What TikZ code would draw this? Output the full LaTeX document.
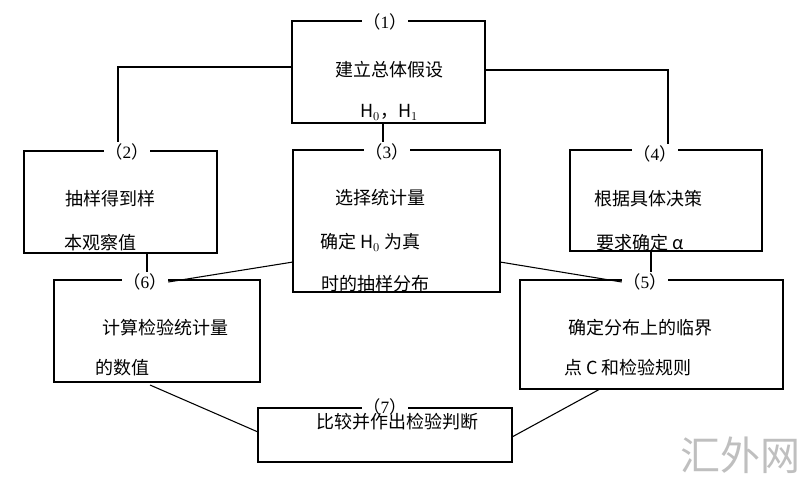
\documentclass[tikz,border=0pt]{standalone}
\usepackage{fontspec}
\setmainfont{Liberation Serif}
\newfontfamily\cjk{Noto Sans CJK SC}
\begin{document}
\begin{tikzpicture}[x=0.75pt,y=-0.75pt,
  box/.style={draw,line width=0.8pt},
  lab/.style={fill=white,inner xsep=1pt,inner ysep=1pt,font=\fontsize{13}{13}\selectfont},
  txt/.style={font=\cjk\fontsize{13.5}{13.5}\selectfont,inner sep=0pt},
  ln/.style={line width=0.8pt}]
\useasboundingbox (0,0) rectangle (803,483);
\draw[box] (292,21) rectangle (485,123);
\draw[box] (24,151) rectangle (217,253);
\draw[box] (293,150) rectangle (500,292);
\draw[box] (570,150) rectangle (762,251);
\draw[box] (520,280) rectangle (783,389);
\draw[box] (54,280) rectangle (260,382);
\draw[box] (258,408) rectangle (512,462);
\node[lab] (l1) at (385,22) {{\cjk（}1{\cjk）}};
\node[lab] (l2) at (127,152) {{\cjk（}2{\cjk）}};
\node[lab] (l3) at (387,152) {{\cjk（}3{\cjk）}};
\node[lab] (l4) at (655,154) {{\cjk（}4{\cjk）}};
\node[lab] (l5) at (645,282) {{\cjk（}5{\cjk）}};
\node[lab] (l6) at (145,282) {{\cjk（}6{\cjk）}};
\node[lab] (l7) at (385,407) {{\cjk（}7{\cjk）}};
\node[txt] (t1a) at (389,70) {建立总体假设};
\node[txt] (t1b) at (389,112) {H$_0$，H$_1$};
\node[txt] (t2a) at (110,199) {抽样得到样};
\node[txt] (t2b) at (100,243) {本观察值};
\node[txt] (t3a) at (380,198) {选择统计量};
\node[txt] (t3b) at (370,242) {确定 H$_0$ 为真};
\node[txt] (t3c) at (375,284) {时的抽样分布};
\node[txt] (t4a) at (648,199) {根据具体决策};
\node[txt] (t4b) at (640,243) {要求确定 α};
\node[txt] (t6a) at (165,328) {计算检验统计量};
\node[txt] (t6b) at (122,368) {的数值};
\node[txt] (t5a) at (640,328) {确定分布上的临界};
\node[txt] (t5b) at (628,368) {点 C 和检验规则};
\node[txt] (t7) at (397,422) {比较并作出检验判断};
\node[font=\cjk\fontsize{30}{30}\selectfont,text=black!25] (wm) at (740,455) {汇外网};
\coordinate (a1) at (292,67); \coordinate (a2) at (118,67);
\draw[ln] (a1) -- (a2) -- (a2 |- l2.north);
\coordinate (b1) at (485,70); \coordinate (b2) at (668,70);
\draw[ln] (b1) -- (b2) -- (b2 |- l4.north);
\coordinate (f1) at (383,123); \draw[ln] (f1) -- (f1 |- l3.north);
\coordinate (g1) at (147,253); \draw[ln] (g1) -- (g1 |- l6.north);
\coordinate (c1) at (293,262); \draw[ln] (c1) -- (l6.east);
\coordinate (c2) at (500,262); \draw[ln] (c2) -- (l5.west);
\coordinate (h1) at (651,251); \draw[ln] (h1) -- (h1 |- l5.north);
\coordinate (d1) at (150,385); \coordinate (d2) at (258,432); \draw[ln] (d1) -- (d2);
\coordinate (e1) at (600,389); \coordinate (e2) at (512,437); \draw[ln] (e1) -- (e2);
\end{tikzpicture}
\end{document}
